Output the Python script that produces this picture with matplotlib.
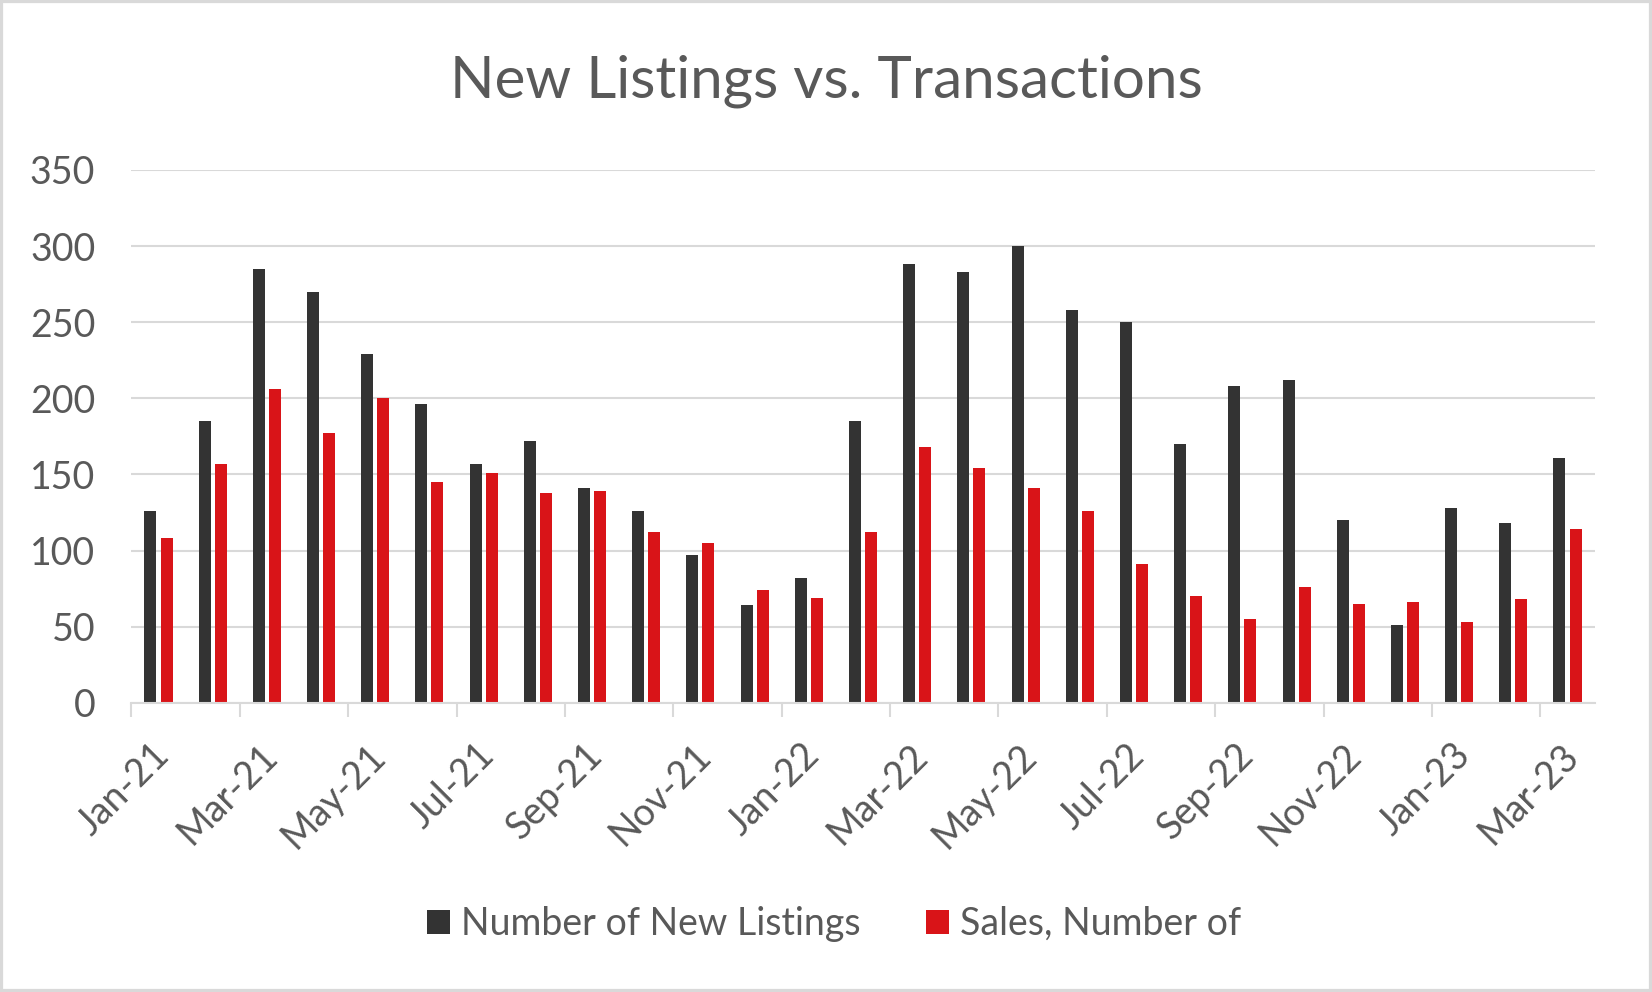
import matplotlib
matplotlib.use("Agg")
import matplotlib.pyplot as plt
from matplotlib.patches import Rectangle, Patch
from matplotlib.transforms import ScaledTranslation
import numpy as np

# ---- data ----
months = ["Jan-21", "Feb-21", "Mar-21", "Apr-21", "May-21", "Jun-21", "Jul-21",
          "Aug-21", "Sep-21", "Oct-21", "Nov-21", "Dec-21", "Jan-22", "Feb-22",
          "Mar-22", "Apr-22", "May-22", "Jun-22", "Jul-22", "Aug-22", "Sep-22",
          "Oct-22", "Nov-22", "Dec-22", "Jan-23", "Feb-23", "Mar-23"]
new_listings = [126, 185, 285, 270, 229, 196, 157, 172, 141, 126, 97, 64, 82, 185,
                288, 283, 300, 258, 250, 170, 208, 212, 120, 51, 128, 118, 161]
sales = [108, 157, 206, 177, 200, 145, 151, 138, 139, 112, 105, 74, 69, 112,
         168, 154, 141, 126, 91, 70, 55, 76, 65, 66, 53, 68, 114]
series_names = ["Number of New Listings", "Sales, Number of"]
y_ticks = [0, 50, 100, 150, 200, 250, 300, 350]

# ---- style ----
FONT = "Lato"
TEXT = "#595959"
GRID = "#D9D9D9"
DARK = "#333333"
RED = "#D91418"

W, H = 1652, 992
fig = plt.figure(figsize=(W / 100, H / 100), dpi=100)
fig.patch.set_facecolor("white")

ax = fig.add_axes([131.4 / W, 1 - 702.7 / H, (1594.6 - 131.4) / W, (702.7 - 170.0) / H])

n = len(months)
x = np.arange(n) + 0.5
bw = 0.2214
off = 0.148
ax.bar(x - off, new_listings, width=bw, color=DARK, zorder=3, linewidth=0)
ax.bar(x + off, sales, width=bw, color=RED, zorder=3, linewidth=0)

ax.set_xlim(0, n)
ax.set_ylim(0, 350)
ax.set_yticks(y_ticks)
ax.set_yticklabels([str(v) for v in y_ticks], fontsize=27, color=TEXT, family=FONT)
ax.tick_params(axis="y", length=0, pad=26)
ax.grid(axis="y", color=GRID, linewidth=1.5, zorder=0)
ax.set_axisbelow(True)

for s in ["top", "right", "left"]:
    ax.spines[s].set_visible(False)
ax.spines["bottom"].set_color(GRID)
ax.spines["bottom"].set_linewidth(1.5)
ax.spines["bottom"].set_zorder(4)

tick_pos = np.arange(0, n, 2)
ax.set_xticks(tick_pos)
ax.set_xticklabels(months[::2], fontsize=27, color=TEXT, family=FONT,
                   rotation=45, ha="right", va="baseline", rotation_mode="anchor")
ax.tick_params(axis="x", length=10, width=1.5, color=GRID, pad=0)
shift = ScaledTranslation(40 / 100, -41 / 100, fig.dpi_scale_trans)
for lab in ax.get_xticklabels():
    lab.set_transform(lab.get_transform() + shift)

fig.text(0.5, 1 - 98 / H, "New Listings vs. Transactions", ha="center", va="baseline",
         fontsize=42, color=TEXT, family=FONT)

handles = [Patch(facecolor=DARK, edgecolor="none"), Patch(facecolor=RED, edgecolor="none")]
leg = fig.legend(handles, series_names, loc="center", bbox_to_anchor=(834 / W, 1 - 924 / H),
                 ncol=2, frameon=False, handlelength=0.62, handleheight=0.62,
                 handletextpad=0.28, columnspacing=1.75,
                 prop={"family": FONT, "size": 27})
for t in leg.get_texts():
    t.set_color(TEXT)

fig.patches.append(Rectangle((0, 0), 1, 1, transform=fig.transFigure, fill=False,
                             edgecolor=GRID, linewidth=4.5, zorder=10))

fig.savefig("out.png", dpi=100, facecolor="white")
